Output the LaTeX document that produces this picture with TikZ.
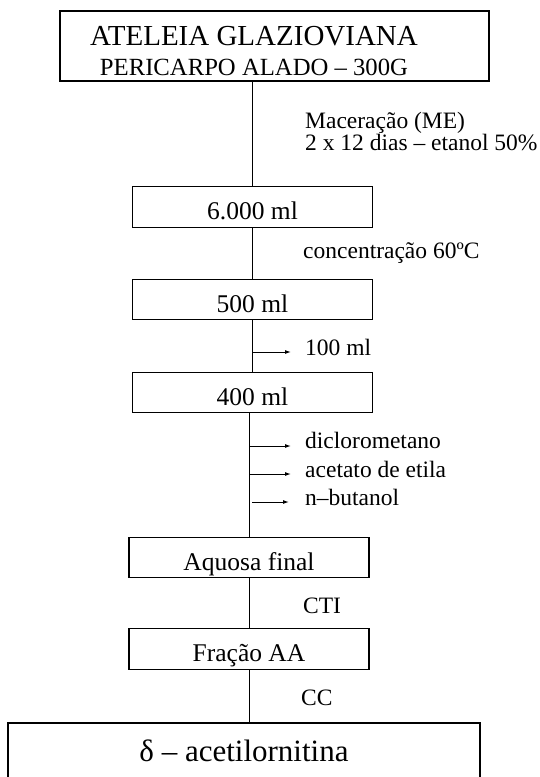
\documentclass[tikz,border=0pt]{standalone}
\usepackage{fontspec}
\setmainfont{Liberation Serif}
\usetikzlibrary{arrows.meta}

\begin{document}
\begin{tikzpicture}[x=1pt,y=-1pt,
  box/.style={draw=black, line width=1.3pt, minimum width=240pt, inner sep=0pt,
    text height=33pt, text depth=7.5pt, font=\fontsize{25.5}{28}\selectfont},
  side/.style={anchor=base west, inner sep=0pt, font=\fontsize{23.5}{26}\selectfont},
  link/.style={black, line width=1pt},
  outarrow/.style={black, line width=1pt, -{Latex[length=6pt, width=4pt]}, shorten >=14pt}]
\useasboundingbox (0,0) rectangle (539,777);
\clip (0,0) rectangle (539,777);
% title box
\node[draw=black, line width=1.3pt, minimum width=429pt, minimum height=70pt, inner sep=0pt] (title) at (274.5,46) {};
\node[anchor=base, inner sep=0pt, font=\fontsize{29}{31}\selectfont] (titleA) at (254,45) {ATELEIA GLAZIOVIANA};
\node[anchor=base, inner sep=0pt, font=\fontsize{24.7}{27}\selectfont] (titleB) at (254,75) {PERICARPO ALADO -- 300G};
% steps
\node[box] (b6000) at (252.5,207) {6.000 ml};
\node[box] (b500) at (252.5,299.5) {500 ml};
\node[box] (b400) at (252.5,392.5) {400 ml};
\node[box] (aquosa) at (249,557.5) {Aquosa final};
\node[box] (fracao) at (249,649) {Fração AA};
\node[draw=black, line width=1.3pt, minimum width=472pt, minimum height=56pt, inner sep=0pt,
  font=\fontsize{31}{34}\selectfont] (product) at (244,751) {δ -- acetilornitina};
% labels
\node[side] (macer) at (305,128) {Maceração (ME)};
\node[side] (tempo) at (305,150) {2 x 12 dias -- etanol 50\%};
\node[side] (conc) at (303,258) {concentração 60ºC};
\node[side] (l100) at (305,355) {100 ml};
\node[side] (dicl) at (305,448) {diclorometano};
\node[side] (acet) at (305,477) {acetato de etila};
\node[side] (buta) at (305,505) {n--butanol};
\node[side] (cti) at (303,613) {CTI};
\node[side] (cc) at (301,705) {CC};
% connectors
\draw[link] (b6000.north |- title.south) -- (b6000.north);
\draw[link] (b6000.south) -- (b500.north);
\draw[link] (b500.south) -- (b400.north);
\draw[link] (aquosa.north |- b400.south) -- (aquosa.north);
\draw[link] (aquosa.south) -- (fracao.north);
\draw[link] (fracao.south) -- (fracao.south |- product.north);
% side outputs
\draw[outarrow] ([yshift=3pt]l100.base west -| b500.south) -- ([yshift=3pt]l100.base west);
\draw[outarrow] ([yshift=2pt]dicl.base west -| aquosa.north) -- ([yshift=2pt]dicl.base west);
\draw[outarrow] ([yshift=3pt]acet.base west -| aquosa.north) -- ([yshift=3pt]acet.base west);
\draw[outarrow, shorten <=3pt, shorten >=16pt] ([yshift=3pt]buta.base west -| aquosa.north) -- ([yshift=3pt]buta.base west);
\end{tikzpicture}
\end{document}
